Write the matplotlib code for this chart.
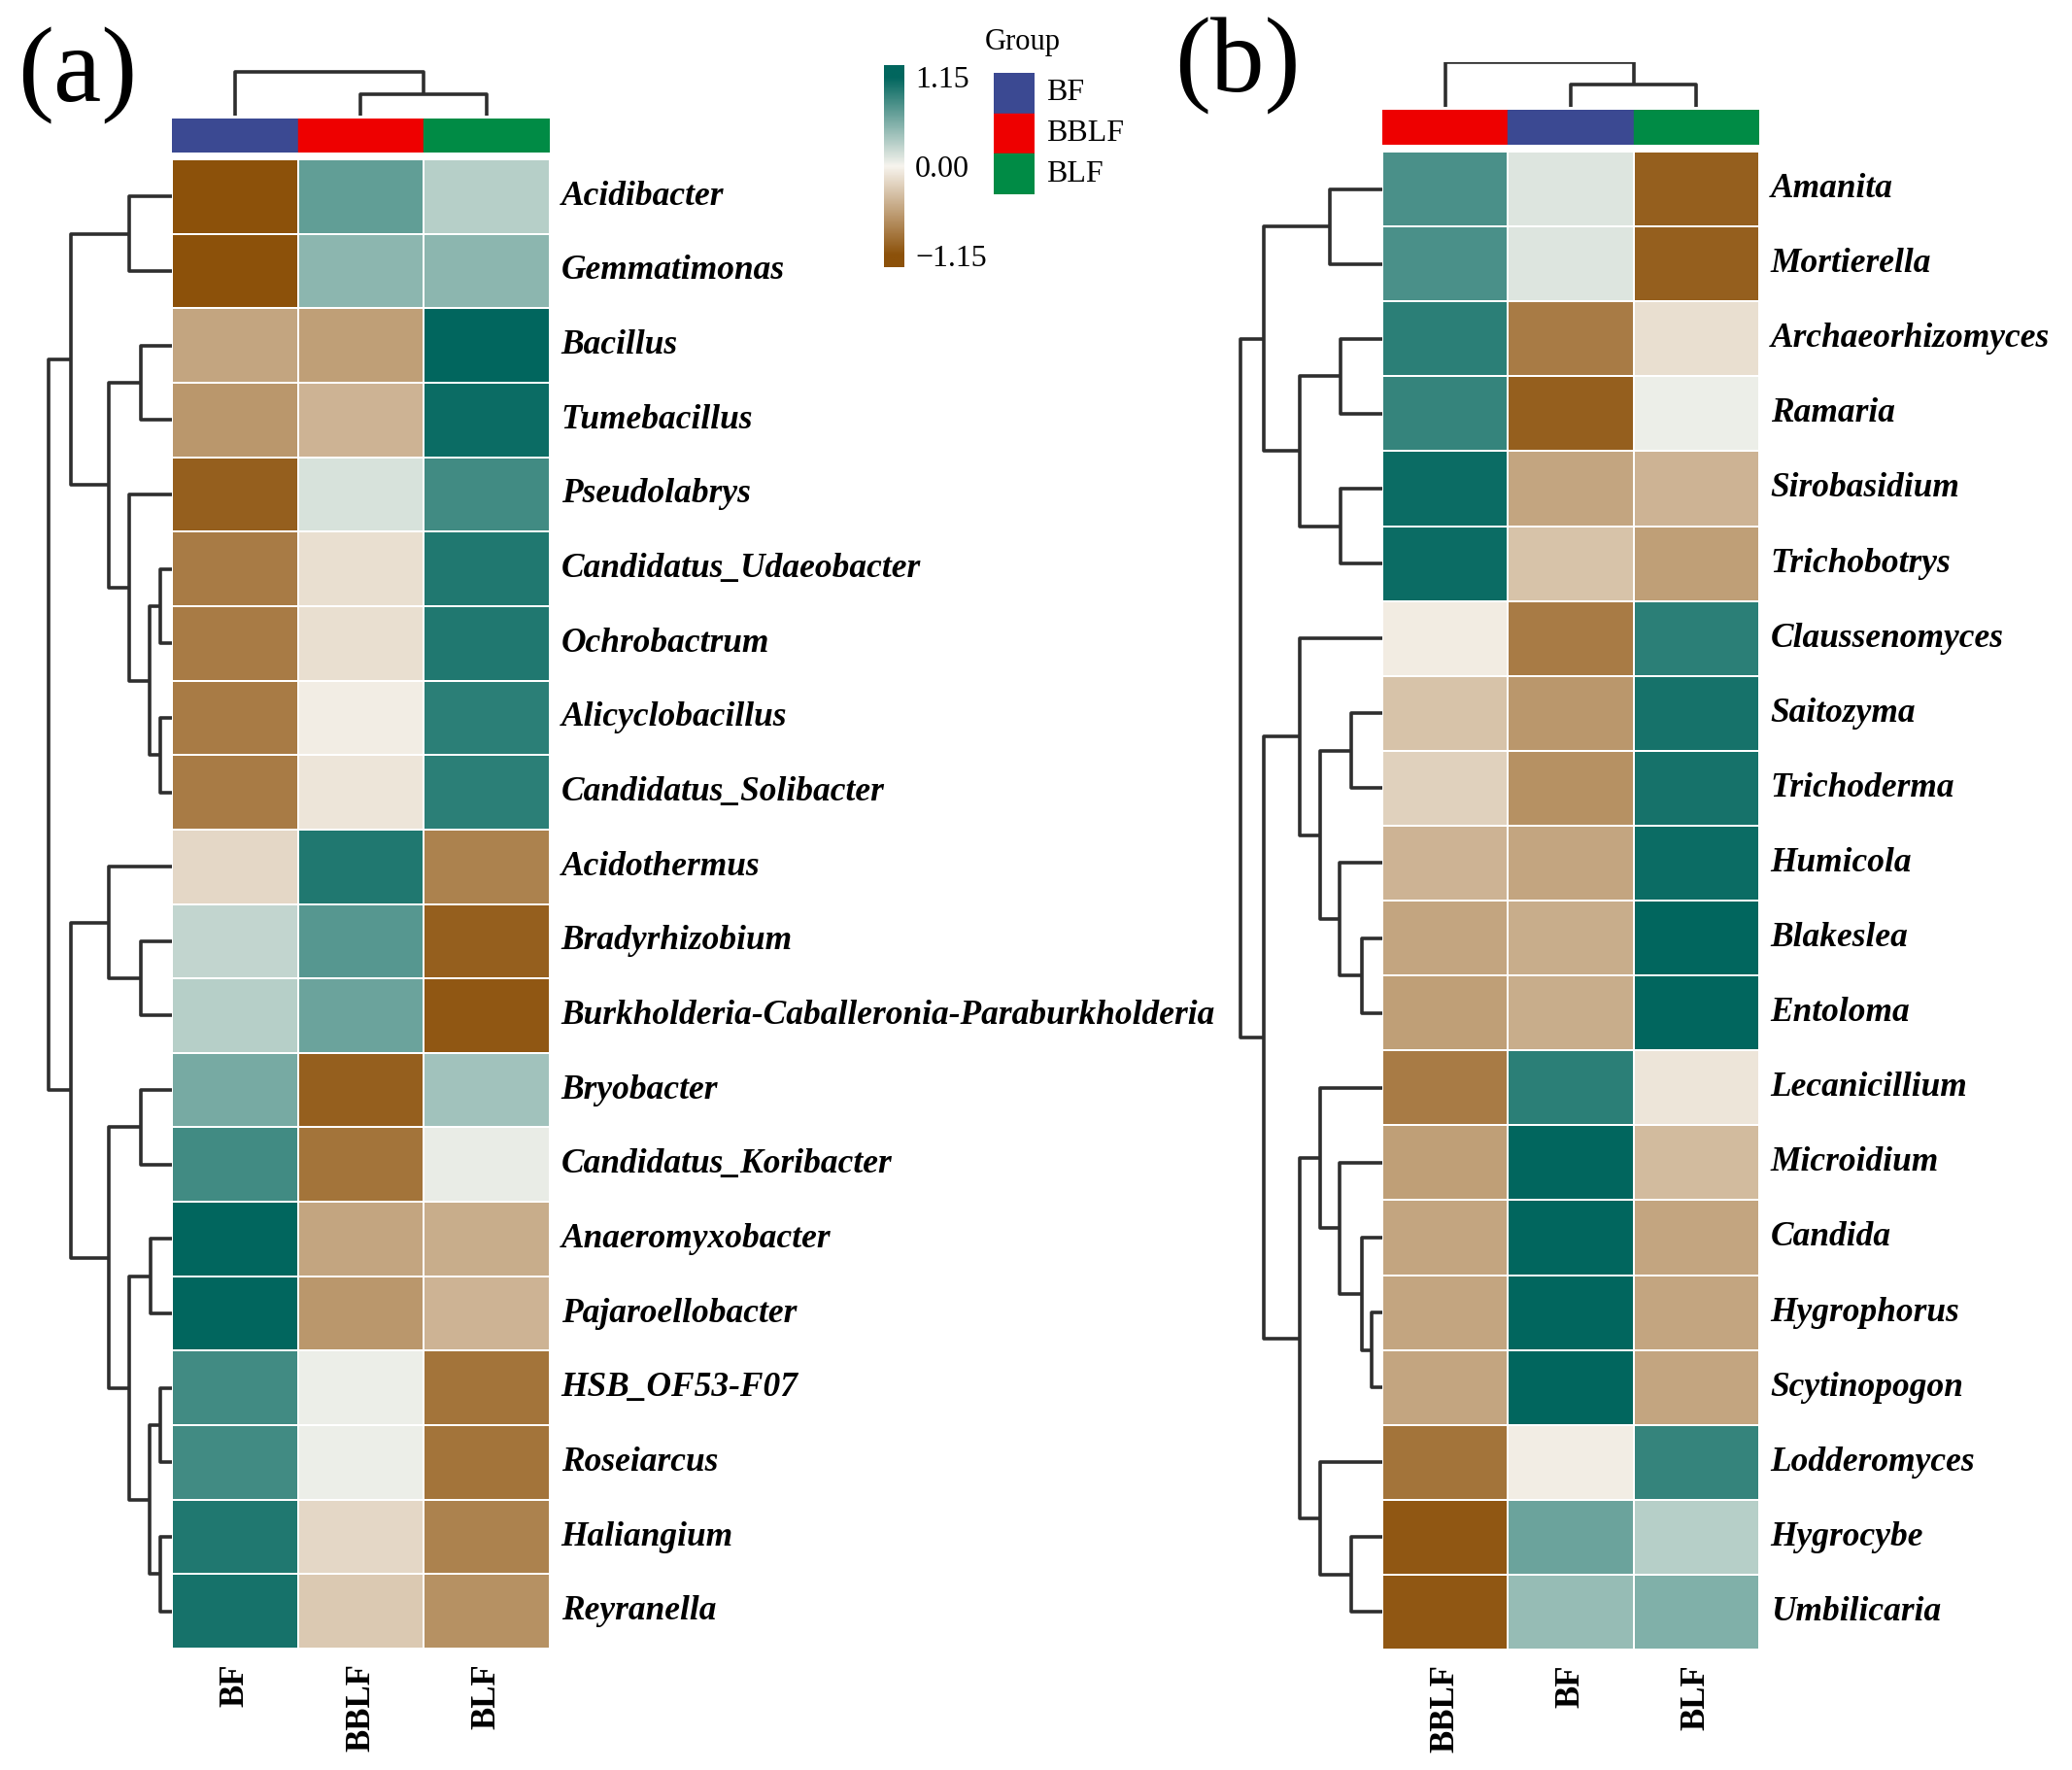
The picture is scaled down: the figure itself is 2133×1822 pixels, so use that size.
import numpy as np
import matplotlib
matplotlib.use("Agg")
import matplotlib.pyplot as plt
from matplotlib.colors import LinearSegmentedColormap, Normalize

# ---- data ----
rows_a = ["Acidibacter", "Gemmatimonas", "Bacillus", "Tumebacillus", "Pseudolabrys",
          "Candidatus_Udaeobacter", "Ochrobactrum", "Alicyclobacillus", "Candidatus_Solibacter",
          "Acidothermus", "Bradyrhizobium", "Burkholderia-Caballeronia-Paraburkholderia",
          "Bryobacter", "Candidatus_Koribacter", "Anaeromyxobacter", "Pajaroellobacter",
          "HSB_OF53-F07", "Roseiarcus", "Haliangium", "Reyranella"]
cols_a = ["BF", "BBLF", "BLF"]
vals_a_BF = [-1.15, -1.15, -0.55, -0.65, -1.05, -0.85, -0.85, -0.85, -0.85, -0.20,
             0.25, 0.30, 0.60, 0.85, 1.15, 1.15, 0.85, 0.85, 1.00, 1.05]
vals_a_BBLF = [0.70, 0.50, -0.60, -0.45, 0.15, -0.15, -0.15, -0.05, -0.10, 1.00,
               0.75, 0.65, -1.05, -0.90, -0.55, -0.65, 0.05, 0.05, -0.20, -0.30]
vals_a_BLF = [0.30, 0.50, 1.15, 1.10, 0.85, 1.00, 1.00, 0.95, 0.95, -0.80,
              -1.05, -1.10, 0.40, 0.07, -0.50, -0.45, -0.90, -0.90, -0.80, -0.70]

rows_b = ["Amanita", "Mortierella", "Archaeorhizomyces", "Ramaria", "Sirobasidium",
          "Trichobotrys", "Claussenomyces", "Saitozyma", "Trichoderma", "Humicola",
          "Blakeslea", "Entoloma", "Lecanicillium", "Microidium", "Candida",
          "Hygrophorus", "Scytinopogon", "Lodderomyces", "Hygrocybe", "Umbilicaria"]
cols_b = ["BBLF", "BF", "BLF"]
vals_b_BBLF = [0.80, 0.80, 0.95, 0.90, 1.10, 1.10, -0.06, -0.35, -0.25, -0.45,
               -0.55, -0.60, -0.85, -0.60, -0.55, -0.55, -0.55, -0.90, -1.10, -1.10]
vals_b_BF = [0.12, 0.12, -0.85, -1.05, -0.55, -0.35, -0.85, -0.65, -0.70, -0.55,
             -0.50, -0.50, 0.95, 1.15, 1.15, 1.15, 1.15, -0.05, 0.65, 0.45]
vals_b_BLF = [-1.05, -1.05, -0.15, 0.05, -0.45, -0.60, 0.95, 1.05, 1.05, 1.10,
              1.15, 1.15, -0.10, -0.40, -0.55, -0.55, -0.55, 0.90, 0.30, 0.55]

# dendrograms: [height, left, right], leaves are row / column indices
tree_rows_a = [127,
               [104, [44, 0, 1], [65, [32, 2, 3], [44, 4, [23, [12, 5, 6], [12, 7, 8]]]]],
               [104, [65, 9, [32, 10, 11]],
                [65, [32, 12, 13], [44, [22, 14, 15], [23, [12, 16, 17], [12, 18, 19]]]]]]
tree_cols_a = [45, 0, [22, 1, 2]]
tree_rows_b = [146,
               [122, [54, 0, 1], [85, [43, 2, 3], [43, 4, 5]]],
               [122, [85, 6, [64, [32, 7, 8], [44, 9, [21, 10, 11]]]],
                [85, [64, 12, [44, 13, [21, 14, [11, 15, 16]]]], [64, 17, [32, 18, 19]]]]]
tree_cols_b = [46, 0, [23, 1, 2]]

group_colors = {"BF": "#3B4992", "BBLF": "#EE0000", "BLF": "#008B45"}
scale_ticks = [-1.15, 0.0, 1.15]

W, H = 2133, 1822
fig = plt.figure(figsize=(W / 100, H / 100), dpi=100)
cmap = LinearSegmentedColormap.from_list("bb", ["#8C510A", "#F7F4EE", "#01665E"])
norm = Normalize(-1.15, 1.15)
SERIF = "Liberation Serif"
LINE = "#2E2E2E"


def px_axes(x0, y0, x1, y1):
    ax = fig.add_axes([x0 / W, 1 - y1 / H, (x1 - x0) / W, (y1 - y0) / H])
    ax.axis("off")
    return ax


def draw_tree(ax, node, rows=True):
    if isinstance(node, int):
        return node + 0.5, 0
    h, l, r = node
    lp, lh = draw_tree(ax, l, rows)
    rp, rh = draw_tree(ax, r, rows)
    xs = [lh, h, h, rh]
    ys = [lp, lp, rp, rp]
    if rows:
        ax.plot(xs, ys, color=LINE, lw=2.6, solid_capstyle="butt")
    else:
        ax.plot(ys, xs, color=LINE, lw=2.6, solid_capstyle="butt")
    return (lp + rp) / 2, h


def panel(vals, rows, cols, trow, tcol, hx0, hx1, hy0, hy1, ann_y, den_top, den_left):
    n = len(rows)
    data = np.column_stack(vals)
    ax = px_axes(hx0, hy0, hx1, hy1)
    ax.pcolormesh(data, cmap=cmap, norm=norm, edgecolors="white", linewidth=1.3)
    ax.set_xlim(0, 3)
    ax.set_ylim(n, 0)
    for i, name in enumerate(rows):
        ax.text(3.09, i + 0.5, name, fontsize=25.5, fontstyle="italic", fontweight="bold",
                family=SERIF, va="center", ha="left")
    for j, c in enumerate(cols):
        ax.text(j + 0.5, n + 0.2, c, rotation=90, fontsize=25, fontweight="bold",
                family=SERIF, va="top", ha="center")
    # group annotation
    axa = px_axes(hx0, ann_y[0], hx1, ann_y[1])
    for j, c in enumerate(cols):
        axa.axvspan(j, j + 1, color=group_colors[c])
    axa.set_xlim(0, 3)
    # column dendrogram
    axc = px_axes(hx0, den_top, hx1, ann_y[0] - 3)
    draw_tree(axc, tcol, rows=False)
    axc.set_xlim(0, 3)
    axc.set_ylim(0, ann_y[0] - 3 - den_top)
    # row dendrogram
    axr = px_axes(den_left, hy0, hx0, hy1)
    draw_tree(axr, trow, rows=True)
    axr.set_xlim(hx0 - den_left, 0)
    axr.set_ylim(n, 0)


panel([vals_a_BF, vals_a_BBLF, vals_a_BLF], rows_a, cols_a, tree_rows_a, tree_cols_a,
      177, 566, 164, 1697, (122, 157), 72, 45)
panel([vals_b_BBLF, vals_b_BF, vals_b_BLF], rows_b, cols_b, tree_rows_b, tree_cols_b,
      1423, 1811, 156, 1698, (113, 149), 64, 1270)

# colour scale
axs = fig.add_axes([910 / W, 1 - 275 / H, 21 / W, 208 / H])
grad = np.linspace(-1.3, 1.3, 256)[:, None]
axs.imshow(grad, cmap=cmap, norm=norm, origin="lower", aspect="auto",
           extent=[0, 1, -1.3, 1.3])
axs.set_xticks([])
axs.yaxis.tick_right()
axs.set_yticks(scale_ticks)
axs.set_yticklabels(["\u22121.15", "0.00", "1.15"], fontsize=23, family=SERIF)
axs.tick_params(axis="y", length=0, pad=8)
for s in axs.spines.values():
    s.set_visible(False)

# group legend
axg = px_axes(1023, 75, 1065, 200)
for k, c in enumerate(cols_a):
    axg.axhspan(k, k + 1, color=group_colors[c])
    fig.text(1077 / W, 1 - (75 + 125 / 6 * (2 * k + 1)) / H, c, fontsize=23,
             family=SERIF, va="center", ha="left")
axg.set_ylim(3, 0)
fig.text(1053 / W, 1 - 43 / H, "Group", fontsize=22, family=SERIF, va="center", ha="center")

# panel tags
fig.text(18 / W, 1 - 78 / H, "(a)", fontsize=80, family=SERIF, va="center", ha="left")
fig.text(1209 / W, 1 - 68 / H, "(b)", fontsize=80, family=SERIF, va="center", ha="left")

fig.savefig("out.png", dpi=100, facecolor="white")
